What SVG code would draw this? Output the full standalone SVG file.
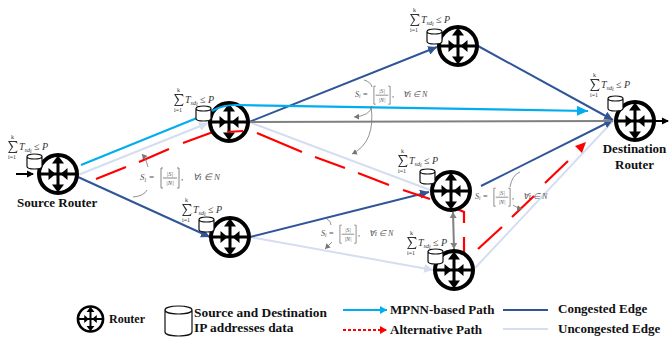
<svg xmlns="http://www.w3.org/2000/svg" width="669" height="337" viewBox="0 0 669 337">
<style>
text{font-family:"Liberation Serif",serif}
.lb{font-weight:bold;fill:#111}
.m{font-size:10px;font-style:italic;fill:#333}
.s{font-size:6px;fill:#333}
.sb{font-size:6px}
.f{font-size:9px;font-style:italic;fill:#555}
.fb{font-size:6px}
.fs{font-size:6.500px;font-style:italic;fill:#555}
.g{stroke:#777;stroke-width:.8;fill:none}
.br{stroke:#666;stroke-width:.8;fill:none}
.cy{fill:none;stroke:#00aeef;stroke-width:2.200}
.bl{fill:none;stroke:#2f5597;stroke-width:2}
.lt{fill:none;stroke:#d5ddf0;stroke-width:2}
.gr{fill:none;stroke:#808080;stroke-width:2}
.rd{fill:none;stroke:#f00;stroke-width:2.200}
.cyl{fill:#fff;stroke:#111;stroke-width:1.200}
.k{fill:none;stroke:#000;stroke-width:2}
</style>
<defs>
<marker id="aC" markerUnits="userSpaceOnUse" markerWidth="12" markerHeight="10" refX="11" refY="5" orient="auto"><path d="M0 0L11 5L0 10z" fill="#00aeef"/></marker>
<marker id="aC2" markerUnits="userSpaceOnUse" markerWidth="8" markerHeight="8" refX="7" refY="4" orient="auto"><path d="M0 0L7 4L0 8z" fill="#00aeef"/></marker>
<marker id="aB" markerUnits="userSpaceOnUse" markerWidth="10" markerHeight="9" refX="9" refY="4.500" orient="auto"><path d="M0 0L9 4.500L0 9z" fill="#2f5597"/></marker>
<marker id="aL" markerUnits="userSpaceOnUse" markerWidth="10" markerHeight="9" refX="9" refY="4.500" orient="auto"><path d="M0 0L9 4.500L0 9z" fill="#d5ddf0"/></marker>
<marker id="aR2" markerUnits="userSpaceOnUse" markerWidth="8" markerHeight="8" refX="7" refY="4" orient="auto"><path d="M0 0L7 4L0 8z" fill="#f00"/></marker>
<marker id="aG" markerUnits="userSpaceOnUse" markerWidth="7" markerHeight="7" refX="6" refY="3.500" orient="auto-start-reverse"><path d="M0 0L6 3.500L0 7z" fill="#808080"/></marker>
<marker id="aT" markerUnits="userSpaceOnUse" markerWidth="6" markerHeight="6" refX="5" refY="3" orient="auto"><path d="M0 0L5 3L0 6z" fill="#777"/></marker>
<g id="rt">
<circle r="19" fill="#fff" stroke="#000" stroke-width="4"/>
<path d="M-20 0H20M0-14V14" stroke="#000" stroke-width="3" fill="none"/>
<path d="M0-18.500L-6-10.500H6zM0 18.500L-6 10.500H6zM-2.500 0L-9.500-6V6zM2.500 0L9.500-6V6z" fill="#000"/>
</g>
<path id="cy" class="cyl" d="M0 2.500V12.500C0 14.200 3.400 15 7.500 15S15 14.200 15 12.500V2.500C15 .8 11.600 0 7.500 0S0 .8 0 2.500C0 4.200 3.400 5 7.500 5S15 4.200 15 2.500"/>
<path id="sig" d="M0 0H9L9.500 3Q8.500 .9 6.300 .9H1.800L5.200 5.800L1.500 11H6.300Q8.700 11 9.500 8.800L8.900 12H0L3.700 6.300z" fill="#333"/>
</defs>
<g id="connectors">
<path class="cy" d="M81 165L197 118"/>
<path class="lt" d="M78 175L208 123" marker-end="url(#aL)"/>
<path class="lt" d="M249 122L430 190"/>
<path class="lt" d="M250 237L433 270" marker-end="url(#aL)"/>
<path class="lt" d="M475 268L613 121"/>
<path class="bl" d="M78 177L210 237" marker-end="url(#aB)"/>
<path class="bl" d="M250 237L429 192" marker-end="url(#aB)"/>
<path class="bl" d="M481 186L613 120" marker-end="url(#aB)"/>
<path class="bl" d="M249 122L437 47" marker-end="url(#aB)"/>
<path class="bl" d="M478 46L613 120" marker-end="url(#aB)"/>
<path class="gr" d="M249 122L613 121"/>
<path class="gr" d="M453 212L454 249" marker-start="url(#aG)" marker-end="url(#aG)"/>
<path class="rd" d="M96 179L126 167M139 162L169 149M183 143L213 132M257 133L302 152M315 157L345 168M358 173L389 185M403 190L430 199M455 208L464 212V223"/>
<path class="rd" d="M464 237V263" marker-end="url(#aR2)"/>
<path class="rd" d="M478 249L502 227M512 217L534 196M545 183L568 161"/>
<path d="M586 142L582 153L575 146z" fill="#f00"/>
<path d="M16 174H33" class="k"/>
<path d="M27 170.500L34 174L27 177.500z" fill="#000"/>
<path d="M654 121H668" class="k"/>
<path d="M662 117.500L669 121L662 124.500z" fill="#000"/>
</g>
<g id="source-router"><use href="#rt" x="58" y="174"/><use href="#cy" x="27" y="154"/>
<g transform="translate(8 150)"><use href="#sig" y="-9"/><text class="s" x="3" y="-11">k</text><text class="s" y="9">i=1</text><text class="m" x="11">T<tspan class="sb" dy="1.500">sd</tspan><tspan class="sb" dy="1" font-size="4">i</tspan><tspan dy="-2.500"> ≤ P</tspan></text></g>
<text class="lb" x="17" y="207" font-size="13">Source Router</text></g>
<g id="router-a"><use href="#rt" x="229" y="122"/><use href="#cy" x="196" y="106"/>
<g transform="translate(174 103)"><use href="#sig" y="-9"/><text class="s" x="3" y="-11">k</text><text class="s" y="9">i=1</text><text class="m" x="11">T<tspan class="sb" dy="1.500">sd</tspan><tspan class="sb" dy="1" font-size="4">i</tspan><tspan dy="-2.500"> ≤ P</tspan></text></g></g>
<g id="router-b"><use href="#rt" x="230" y="237"/><use href="#cy" x="199" y="217"/>
<g transform="translate(182 213)"><use href="#sig" y="-9"/><text class="s" x="3" y="-11">k</text><text class="s" y="9">i=1</text><text class="m" x="11">T<tspan class="sb" dy="1.500">sd</tspan><tspan class="sb" dy="1" font-size="4">i</tspan><tspan dy="-2.500"> ≤ P</tspan></text></g></g>
<g id="router-c"><use href="#rt" x="458" y="46"/><use href="#cy" x="427" y="29"/>
<g transform="translate(410 23)"><use href="#sig" y="-9"/><text class="s" x="3" y="-11">k</text><text class="s" y="9">i=1</text><text class="m" x="11">T<tspan class="sb" dy="1.500">sd</tspan><tspan class="sb" dy="1" font-size="4">i</tspan><tspan dy="-2.500"> ≤ P</tspan></text></g></g>
<g id="router-d"><use href="#rt" x="451" y="191"/><use href="#cy" x="420" y="169"/>
<g transform="translate(398 164)"><use href="#sig" y="-9"/><text class="s" x="3" y="-11">k</text><text class="s" y="9">i=1</text><text class="m" x="11">T<tspan class="sb" dy="1.500">sd</tspan><tspan class="sb" dy="1" font-size="4">i</tspan><tspan dy="-2.500"> ≤ P</tspan></text></g></g>
<g id="router-e"><use href="#rt" x="454" y="270"/><use href="#cy" x="428" y="249"/>
<g transform="translate(407 246)"><use href="#sig" y="-9"/><text class="s" x="3" y="-11">k</text><text class="s" y="9">i=1</text><text class="m" x="11">T<tspan class="sb" dy="1.500">sd</tspan><tspan class="sb" dy="1" font-size="4">i</tspan><tspan dy="-2.500"> ≤ P</tspan></text></g></g>
<g id="destination-router"><use href="#rt" x="635" y="121"/><use href="#cy" x="608" y="96"/>
<g transform="translate(590 88)"><use href="#sig" y="-9"/><text class="s" x="3" y="-11">k</text><text class="s" y="9">i=1</text><text class="m" x="11">T<tspan class="sb" dy="1.500">sd</tspan><tspan class="sb" dy="1" font-size="4">i</tspan><tspan dy="-2.500"> ≤ P</tspan></text></g>
<text class="lb" x="634.500" y="153" font-size="13" text-anchor="middle">Destination</text><text class="lb" x="634.500" y="169" font-size="13" text-anchor="middle">Router</text></g>
<g id="connectors-over">
<path class="cy" d="M212 111Q222 105 236 105L588 111" marker-end="url(#aC)"/>
<path class="rd" d="M227 132L243 131"/>
</g>
<g id="annotations">
<path class="g" d="M133 197Q144 196 147 190"/><path class="g" d="M148 167Q147 160 142 154" marker-end="url(#aT)"/>
<g transform="translate(140 180)"><text class="f">S<tspan class="fb" dy="1.500">i</tspan><tspan dy="-1.500"> =</tspan></text><path class="br" d="M21-12V8H23M21-12H23M39-12V8H37M39-12H37M23-2H37"/><text class="fs" x="30" y="-4" text-anchor="middle">|S|</text><text class="fs" x="30" y="5" text-anchor="middle">|N|</text><text class="f" x="41">,</text><text class="f" x="53">∀i ∈ N</text></g>

<path class="g" d="M364 80Q371 82 372 87"/><path class="g" d="M372 106Q370 116 354 117" marker-end="url(#aT)"/><path class="g" d="M371 106Q376 142 352 154" marker-end="url(#aT)"/>
<g transform="translate(355 97) scale(.9)"><text class="f">S<tspan class="fb" dy="1.500">i</tspan><tspan dy="-1.500"> =</tspan></text><path class="br" d="M21-12V8H23M21-12H23M39-12V8H37M39-12H37M23-2H37"/><text class="fs" x="30" y="-4" text-anchor="middle">|S|</text><text class="fs" x="30" y="5" text-anchor="middle">|N|</text><text class="f" x="41">,</text><text class="f" x="53">∀i ∈ N</text></g>

<path class="g" d="M520 172Q512 175 510 187"/><path class="g" d="M513 205Q517 208 522 209" marker-end="url(#aT)"/>
<g transform="translate(475 199) scale(.9)"><text class="f">S<tspan class="fb" dy="1.500">i</tspan><tspan dy="-1.500"> =</tspan></text><path class="br" d="M21-12V8H23M21-12H23M39-12V8H37M39-12H37M23-2H37"/><text class="fs" x="30" y="-4" text-anchor="middle">|S|</text><text class="fs" x="30" y="5" text-anchor="middle">|N|</text><text class="f" x="41">,</text><text class="f" x="53">∀i ∈ N</text></g>

<path class="g" d="M327 219Q331 221 331 225"/><path class="g" d="M332 242L325 249" marker-end="url(#aT)"/>
<g transform="translate(321 236) scale(.9)"><text class="f">S<tspan class="fb" dy="1.500">i</tspan><tspan dy="-1.500"> =</tspan></text><path class="br" d="M21-12V8H23M21-12H23M39-12V8H37M39-12H37M23-2H37"/><text class="fs" x="30" y="-4" text-anchor="middle">|S|</text><text class="fs" x="30" y="5" text-anchor="middle">|N|</text><text class="f" x="41">,</text><text class="f" x="53">∀i ∈ N</text></g>
</g>
<g id="legend">
<use href="#rt" transform="translate(90.500 319) scale(.66)"/>
<text class="lb" x="109" y="323" font-size="12">Router</text>
<path class="cyl" d="M165 310V332C165 334.500 171 336 178.500 336S192 334.500 192 332V310C192 307.500 186 306 178.500 306S165 307.500 165 310C165 312.500 171 314 178.500 314S192 312.500 192 310" stroke-width="1.500"/>
<text class="lb" x="194" y="317" font-size="13.400">Source and Destination</text>
<text class="lb" x="194" y="332" font-size="13.400">IP addresses data</text>
<path class="cy" d="M343 310H387" marker-end="url(#aC2)"/>
<text class="lb" x="390" y="314" font-size="13">MPNN-based Path</text>
<path d="M343 330H387" fill="none" stroke="#f00" stroke-width="2.200" stroke-dasharray="3 2" marker-end="url(#aR2)"/>
<text class="lb" x="390" y="334" font-size="13">Alternative Path</text>
<path d="M503 310H548" stroke="#2f5597" stroke-width="2" fill="none"/>
<text class="lb" x="558" y="313" font-size="13">Congested Edge</text>
<path d="M503 329H548" stroke="#d5ddf0" stroke-width="2" fill="none"/>
<text class="lb" x="558" y="333" font-size="13">Uncongested Edge</text>
</g>
</svg>
